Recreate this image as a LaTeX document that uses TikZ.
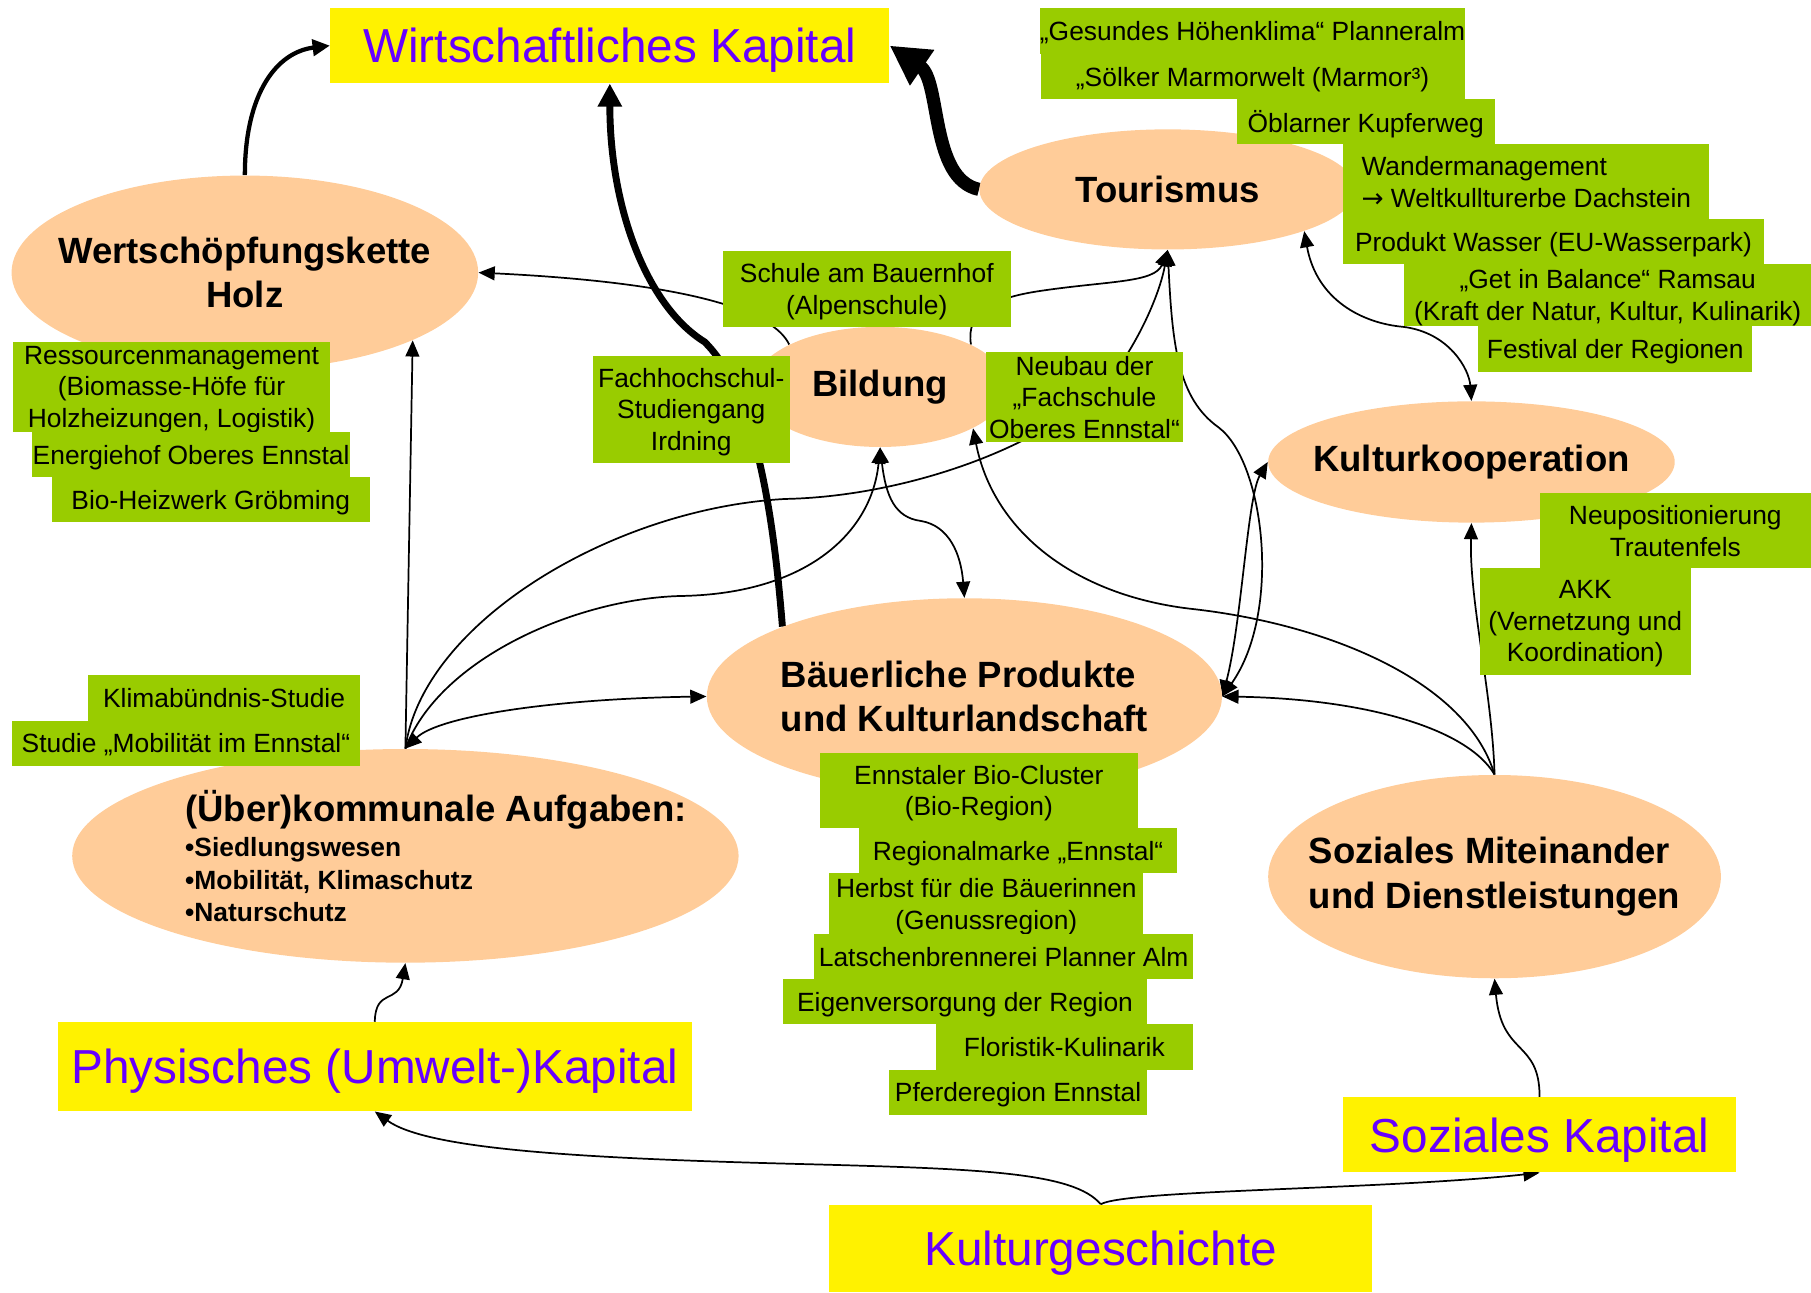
\documentclass[tikz,border=0pt]{standalone}
\usepackage{fontspec}
\setmainfont{Liberation Sans}
\newfontfamily\arrowfont{DejaVu Sans}
\usetikzlibrary{shapes.geometric,arrows.meta}
\definecolor{peach}{RGB}{255,204,153}
\definecolor{grn}{RGB}{153,204,0}
\definecolor{capviolet}{RGB}{102,0,255}
\pgfdeclarelayer{bg}
\pgfsetlayers{bg,main}
\begin{document}
\begin{tikzpicture}[
    ell/.style={ellipse, fill=peach, inner sep=0pt},
    ybox/.style={rectangle, fill=yellow, inner sep=0pt, text depth=0pt, text=capviolet, font=\fontsize{23.5}{28}\selectfont},
    gbox/.style={rectangle, fill=grn, inner sep=0pt, text depth=0pt, align=center, font=\fontsize{13}{15.5}\selectfont},
    etxt/.style={font=\bfseries\fontsize{18}{22}\selectfont, align=center},
    btxt/.style={font=\bfseries\fontsize{13}{16}\selectfont, anchor=base west, inner sep=0pt},
    arr/.style={line width=0.85pt, -{Triangle[length=2.8mm,width=2.4mm]}},
    darr/.style={line width=0.85pt, {Triangle[length=2.8mm,width=2.4mm]}-{Triangle[length=2.8mm,width=2.4mm]}}
]
\useasboundingbox (0,0) rectangle (31.36,-22.38);

\node[ybox, minimum width=9.68cm, minimum height=1.3cm] (W) at (10.56,-0.79) {Wirtschaftliches Kapital};
\node[ybox, minimum width=10.98cm, minimum height=1.54cm] (PK) at (6.49,-18.47) {Physisches (Umwelt-)Kapital};
\node[ybox, minimum width=6.8cm, minimum height=1.3cm] (SK) at (26.66,-19.65) {Soziales Kapital};
\node[ybox, minimum width=9.4cm, minimum height=1.52cm] (KG) at (19.06,-21.62) {Kulturgeschichte};

\node[ell, minimum width=8.08cm, minimum height=3.36cm] (H) at (4.24,-4.72) {};
\node[ell, minimum width=6.52cm, minimum height=2.08cm] (T) at (20.22,-3.28) {};
\node[ell, minimum width=4.4cm, minimum height=2.08cm] (B) at (15.24,-6.7) {};
\node[ell, minimum width=8.92cm, minimum height=3.4cm] (BP) at (16.7,-12.06) {};
\node[ell, minimum width=11.54cm, minimum height=3.7cm] (K) at (7.02,-14.82) {};
\node[ell, minimum width=7.04cm, minimum height=2.1cm] (KK) at (25.48,-8.0) {};
\node[ell, minimum width=7.84cm, minimum height=3.52cm] (SM) at (25.88,-15.18) {};

\node[etxt] (Ht) at (H) {Wertschöpfungskette\\Holz};
\node[etxt] (Tt) at (T) {Tourismus};
\node[etxt] (Bt) at (B) {Bildung};
\node[etxt, align=left] (BPt) at (BP) {Bäuerliche Produkte\\und Kulturlandschaft};
\node[etxt] (KKt) at (KK) {Kulturkooperation};
\node[etxt, align=left] (SMt) at (SM) {Soziales Miteinander\\und Dienstleistungen};
\node[etxt, anchor=base west, inner sep=0pt] (Kt) at (3.2,-14.22) {(Über)kommunale Aufgaben:};
\node[btxt] (Kb1) at (3.2,-14.84) {•Siedlungswesen};
\node[btxt] (Kb2) at (3.2,-15.4) {•Mobilität, Klimaschutz};
\node[btxt] (Kb3) at (3.2,-15.96) {•Naturschutz};

\node[gbox, minimum width=7.34cm, minimum height=0.8cm] (T1) at (21.69,-0.54) {„Gesundes Höhenklima“ Planneralm};
\node[gbox, minimum width=7.34cm, minimum height=0.78cm] (T2) at (21.69,-1.33) {„Sölker Marmorwelt (Marmor³)};
\node[gbox, minimum width=4.46cm, minimum height=0.78cm] (T3) at (23.65,-2.11) {Öblarner Kupferweg};
\node[gbox, minimum width=6.34cm, minimum height=1.3cm, align=left] (T4) at (26.43,-3.15) {Wandermanagement\\{\arrowfont →} Weltkullturerbe Dachstein};
\node[gbox, minimum width=7.28cm, minimum height=0.78cm] (T5) at (26.9,-4.19) {Produkt Wasser (EU-Wasserpark)};
\node[gbox, minimum width=7.04cm, minimum height=1.06cm] (T6) at (27.84,-5.11) {„Get in Balance“ Ramsau\\(Kraft der Natur, Kultur, Kulinarik)};
\node[gbox, minimum width=4.74cm, minimum height=0.8cm] (T7) at (27.97,-6.04) {Festival der Regionen};

\node[gbox, minimum width=4.98cm, minimum height=1.32cm] (B1) at (15.01,-5.0) {Schule am Bauernhof\\(Alpenschule)};
\node[gbox, minimum width=3.42cm, minimum height=1.86cm] (B2) at (11.97,-7.09) {Fachhochschul-\\Studiengang\\Irdning};
\node[gbox, minimum width=3.4cm, minimum height=1.56cm] (B3) at (18.78,-6.88) {Neubau der\\„Fachschule\\Oberes Ennstal“};

\node[gbox, minimum width=5.5cm, minimum height=1.56cm] (H1) at (2.97,-6.7) {Ressourcenmanagement\\(Biomasse-Höfe für\\Holzheizungen, Logistik)};
\node[gbox, minimum width=5.5cm, minimum height=0.78cm] (H2) at (3.31,-7.87) {Energiehof Oberes Ennstal};
\node[gbox, minimum width=5.5cm, minimum height=0.78cm] (H3) at (3.65,-8.65) {Bio-Heizwerk Gröbming};

\node[gbox, minimum width=4.72cm, minimum height=0.8cm] (K1) at (3.88,-12.08) {Klimabündnis-Studie};
\node[gbox, minimum width=6.04cm, minimum height=0.78cm] (K2) at (3.22,-12.87) {Studie „Mobilität im Ennstal“};

\node[gbox, minimum width=5.5cm, minimum height=1.3cm] (P1) at (16.95,-13.69) {Ennstaler Bio-Cluster\\(Bio-Region)};
\node[gbox, minimum width=5.5cm, minimum height=0.78cm] (P2) at (17.63,-14.73) {Regionalmarke „Ennstal“};
\node[gbox, minimum width=5.44cm, minimum height=1.06cm] (P3) at (17.08,-15.65) {Herbst für die Bäuerinnen\\(Genussregion)};
\node[gbox, minimum width=6.56cm, minimum height=0.78cm] (P4) at (17.38,-16.57) {Latschenbrennerei Planner Alm};
\node[gbox, minimum width=6.3cm, minimum height=0.78cm] (P5) at (16.71,-17.35) {Eigenversorgung der Region};
\node[gbox, minimum width=4.46cm, minimum height=0.78cm] (P6) at (18.43,-18.13) {Floristik-Kulinarik};
\node[gbox, minimum width=4.46cm, minimum height=0.78cm] (P7) at (17.63,-18.91) {Pferderegion Ennstal};

\node[gbox, minimum width=4.7cm, minimum height=1.3cm] (KK1) at (29.01,-9.19) {Neupositionierung\\Trautenfels};
\node[gbox, minimum width=3.66cm, minimum height=1.84cm] (KK2) at (27.45,-10.76) {AKK\\(Vernetzung und\\Koordination)};

\begin{pgfonlayer}{bg}
% dicke Pfeile zum wirtschaftlichen Kapital
\draw[line width=2.1pt, -{Triangle[length=3mm,width=2.8mm]}] (H.north) .. controls (4.24,-1.6) and (4.8,-0.9) .. (W.west);
\draw[line width=3.4pt, -{Triangle[length=4mm,width=4mm]}] (BP.159) .. controls (13.4,-9.0) and (13.1,-6.8) .. (12.2,-5.92) .. controls (11.2,-5.3) and (10.56,-3.6) .. (W.south);
\draw[line width=6.5pt, -{Triangle[length=6.8mm,width=7mm]}] (T.west) .. controls (16.1,-3.1) and (16.3,-1.4) .. (W.east);

\draw[arr] (B.155) .. controls (13.4,-5.4) and (12.0,-4.9) .. (H.east);
\draw[arr] (B.25) .. controls (16.72,-5.4) and (17.2,-5.16) .. (18.0,-5.04) .. controls (19.2,-4.86) and (20.0,-4.9) .. (T.south);
\draw[arr] (K.north) .. controls (7.3,-10.8) and (10.6,-8.8) .. (13.6,-8.64) .. controls (15.6,-8.6) and (18.0,-7.8) .. (19.2,-6.6) .. controls (19.8,-5.8) and (20.1,-5.0) .. (T.south);
\draw[arr] (K.north) .. controls (7.6,-11.4) and (10.0,-10.36) .. (11.8,-10.32) .. controls (14.0,-10.28) and (15.1,-9.2) .. (B.south);
\draw[arr] (K.north) -- (H.-22);
\draw[darr] (K.north) .. controls (7.6,-12.4) and (9.6,-12.1) .. (BP.west);
\draw[darr] (B.south) .. controls (15.34,-8.6) and (15.5,-8.96) .. (15.94,-9.02) .. controls (16.44,-9.1) and (16.64,-9.6) .. (BP.north);

\draw[arr] (SM.north) .. controls (25.4,-11.8) and (23.0,-10.8) .. (20.6,-10.54) .. controls (18.6,-10.3) and (17.2,-9.2) .. (B.-24);
\draw[arr] (SM.north) .. controls (25.4,-12.6) and (23.6,-12.1) .. (BP.east);
\draw[arr] (SM.north) .. controls (25.84,-12.0) and (25.44,-10.4) .. (KK.south);

\draw[darr] (T.-17) .. controls (22.8,-5.2) and (23.6,-5.6) .. (24.3,-5.66) .. controls (25.1,-5.76) and (25.44,-6.4) .. (KK.north);
\draw[darr] (T.south) .. controls (20.3,-6.0) and (20.4,-6.9) .. (21.1,-7.4) .. controls (21.9,-8.0) and (22.2,-10.6) .. (BP.east);
\draw[darr] (KK.west) .. controls (21.6,-8.6) and (21.5,-10.8) .. (BP.east);

\draw[arr] (KG.north) .. controls (18.6,-20.3) and (17.0,-20.24) .. (14.0,-20.16) .. controls (10.0,-20.06) and (7.4,-19.9) .. (PK.south);
\draw[arr] (KG.north) .. controls (19.5,-20.6) and (24.0,-20.6) .. (SK.south);
\draw[arr] (PK.north) .. controls (6.5,-17.1) and (6.9,-17.4) .. (K.south);
\draw[arr] (SK.north) .. controls (26.66,-18.0) and (26.0,-18.3) .. (SM.south);
\end{pgfonlayer}
\end{tikzpicture}
\end{document}
